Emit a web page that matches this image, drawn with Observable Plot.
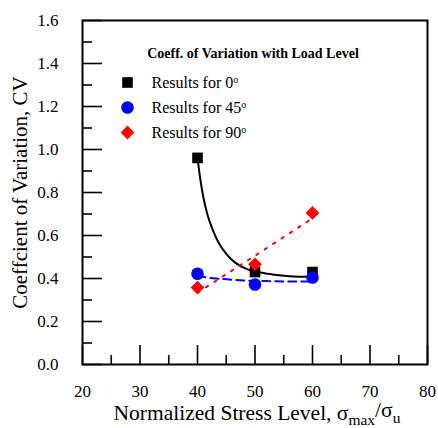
<!DOCTYPE html>
<html>
<head>
<meta charset="utf-8">
<script src="https://cdn.jsdelivr.net/npm/d3@7"></script>
<script src="https://cdn.jsdelivr.net/npm/@observablehq/plot@0.6"></script>
<style>
  html, body { margin: 0; padding: 0; background: white; }
  svg text, svg tspan { font-family: "Liberation Serif", "Times New Roman", Tinos, serif !important; }
</style>
</head>
<body>
<div id="chart"></div>
<script>
// ---- data ----
const stressLevels = [40, 50, 60];
const cv0 = [0.961, 0.43, 0.43];
const cv45 = [0.422, 0.372, 0.405];
const cv90 = [0.358, 0.466, 0.705];

// fitted curves as they appear in the picture
const fit0X = [40, 40.5, 41, 41.7, 42.6, 43.6, 45, 46.5, 48.5, 50.5, 53, 56, 60];
const fit0Y = [0.961, 0.86, 0.78, 0.70, 0.63, 0.57, 0.515, 0.475, 0.445, 0.43, 0.419, 0.411, 0.408];
const fit45X = [40, 42.2, 45.6, 48, 52, 56, 60];
const fit45Y = [0.41, 0.403, 0.395, 0.391, 0.388, 0.386, 0.386];
const fit90X = [40, 50, 60];
const fit90Y = [0.334, 0.506, 0.68];

const seriesNames = ["Results for 0°", "Results for 45°", "Results for 90°"];
const chartTitle = "Coeff. of Variation with Load Level";
const xLabel = "Normalized Stress Level, σ_max/σ_u";
const yLabel = "Coeffcient of Variation, CV";

const xMajor = [20, 30, 40, 50, 60, 70, 80];
const xMinor = [25, 35, 45, 55, 65, 75];
const yMajor = [0, 0.2, 0.4, 0.6, 0.8, 1.0, 1.2, 1.4, 1.6];
const yMinor = [0.1, 0.3, 0.5, 0.7, 0.9, 1.1, 1.3, 1.5];

// ---- build tables ----
const pts = (xs, ys) => xs.map((x, i) => ({x, y: ys[i]}));
const series = [
  {name: seriesNames[0], pts: pts(stressLevels, cv0), fit: pts(fit0X, fit0Y), color: "#000000", symbol: "square", r: 6, dash: null},
  {name: seriesNames[1], pts: pts(stressLevels, cv45), fit: pts(fit45X, fit45Y), color: "#0000ff", symbol: "circle", r: 6.3, dash: "8,5"},
  {name: seriesNames[2], pts: pts(stressLevels, cv90), fit: pts(fit90X, fit90Y), color: "#ff0000", symbol: "diamond2", r: 6.2, dash: "2.5,7.5"}
];

const W = 438, H = 428, mL = 82, mR = 11, mT = 20, mB = 64;
const frameW = W - mL - mR, frameH = H - mT - mB;
const FONT = "'Liberation Serif', 'Times New Roman', Tinos, serif";

const marks = [];
series.forEach(s => {
  marks.push(Plot.line(s.fit, {x: "x", y: "y", stroke: s.color, strokeWidth: 2,
    strokeDasharray: s.dash, curve: "monotone-x"}));
});
series.forEach(s => {
  marks.push(Plot.dot(s.pts, {x: "x", y: "y", symbol: s.symbol, r: s.r, fill: s.color, stroke: "none"}));
});
marks.push(Plot.tickX(xMajor, {x: d => d, insetTop: frameH - 19, stroke: "black", strokeWidth: 1.6}));
marks.push(Plot.tickX(xMinor, {x: d => d, insetTop: frameH - 9, stroke: "black", strokeWidth: 1.6}));
marks.push(Plot.tickY(yMajor, {y: d => d, insetRight: frameW - 20, stroke: "black", strokeWidth: 1.6}));
marks.push(Plot.tickY(yMinor, {y: d => d, insetRight: frameW - 10, stroke: "black", strokeWidth: 1.6}));
marks.push(Plot.axisX(xMajor, {anchor: "bottom", tickSize: 0, tickPadding: 20, fontSize: 17, label: null, tickFormat: d => String(d)}));
marks.push(Plot.axisY(yMajor, {anchor: "left", tickSize: 0, tickPadding: 24, fontSize: 17, label: null, tickFormat: d3.format(".1f")}));
marks.push(Plot.frame({stroke: "black", strokeWidth: 2}));
marks.push(Plot.text([xLabel], {text: d => d, frameAnchor: "bottom", textAnchor: "middle", dy: 55, dx: 2, lineAnchor: "bottom", fontSize: 21.5, className: "xlab"}));
marks.push(Plot.text([yLabel], {text: d => d, frameAnchor: "left", textAnchor: "middle", rotate: -90, dx: -62, lineAnchor: "middle", fontSize: 21}));
marks.push(Plot.text([chartTitle], {text: d => d, frameAnchor: "top", textAnchor: "middle", dx: -2, dy: 33, lineAnchor: "middle", fontSize: 14, fontWeight: "bold"}));
series.forEach((s, i) => {
  marks.push(Plot.dot([s.name], {frameAnchor: "top-left", dx: 45, dy: 62 + 25 * i, symbol: s.symbol, r: s.r, fill: s.color, stroke: "none"}));
  marks.push(Plot.text([s.name], {text: d => d, frameAnchor: "top-left", dx: 69, dy: 62 + 25 * i, textAnchor: "start", lineAnchor: "middle", fontSize: 16, className: "leg"}));
});

const chart = Plot.plot({
  width: W, height: H,
  marginLeft: mL, marginRight: mR, marginTop: mT, marginBottom: mB,
  x: {domain: [20, 80]},
  y: {domain: [0, 1.6]},
  style: {fontFamily: FONT, background: "white", color: "black"},
  marks
});
document.getElementById("chart").appendChild(chart);

const svg = d3.select(chart);
svg.selectAll(".leg text").each(function() {
  const t = this.textContent;
  if (t.endsWith("°")) {
    const el = d3.select(this);
    el.text(t.slice(0, -1));
    el.append("tspan").attr("dy", "-0.45em").attr("font-size", "0.62em").text("o");
  }
});
svg.selectAll(".xlab text").each(function() {
  const parts = this.textContent.split(/_([a-z]+)/);
  const el = d3.select(this);
  el.text("");
  let sub = false;
  parts.forEach((p, i) => {
    if (!p) return;
    const isSub = i % 2 === 1;
    const ts = el.append("tspan").text(p);
    if (isSub && !sub) { ts.attr("dy", "0.38em").attr("font-size", "0.72em"); sub = true; }
    else if (!isSub && sub) { ts.attr("dy", "-0.38em"); sub = false; }
    else if (isSub) ts.attr("font-size", "0.72em");
  });
});
</script>
</body>
</html>
